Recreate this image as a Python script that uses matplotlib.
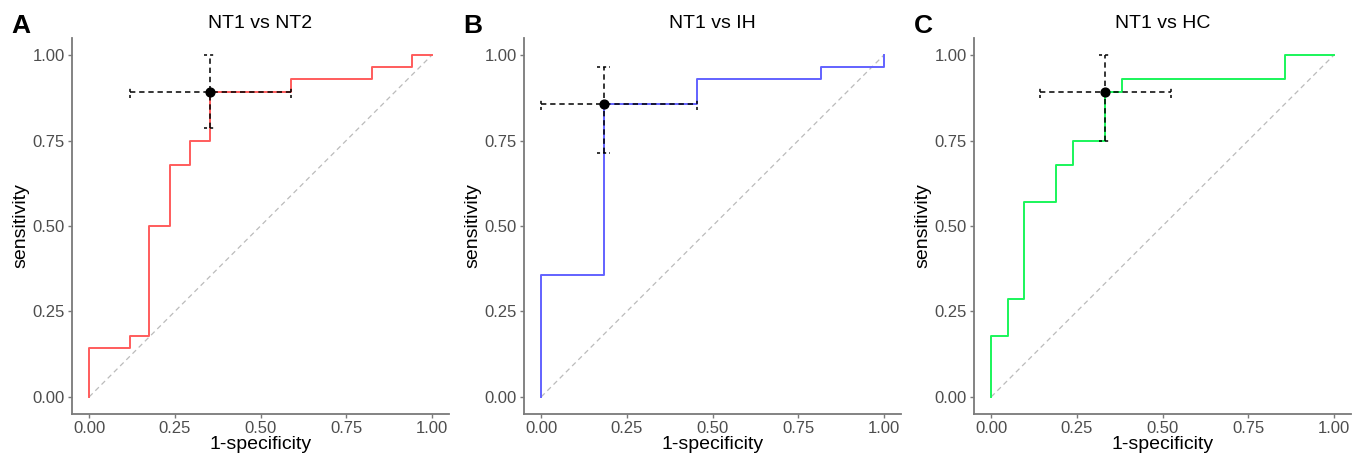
import matplotlib
matplotlib.use('Agg')
import matplotlib.pyplot as plt

plt.rcParams['font.family'] = ['Liberation Sans', 'DejaVu Sans']

# ROC step curves (1-specificity, sensitivity)
nt2_fpr = [0, 0, 0.118, 0.118, 0.176, 0.176, 0.235, 0.235, 0.294, 0.294, 0.353, 0.353,
           0.588, 0.588, 0.824, 0.824, 0.941, 0.941, 1.0]
nt2_tpr = [0, 0.143, 0.143, 0.179, 0.179, 0.5, 0.5, 0.679, 0.679, 0.75, 0.75, 0.893,
           0.893, 0.929, 0.929, 0.964, 0.964, 1.0, 1.0]

ih_fpr = [0, 0, 0.182, 0.182, 0.455, 0.455, 0.818, 0.818, 1.0, 1.0]
ih_tpr = [0, 0.357, 0.357, 0.857, 0.857, 0.929, 0.929, 0.964, 0.964, 1.0]

hc_fpr = [0, 0, 0.048, 0.048, 0.095, 0.095, 0.190, 0.190, 0.238, 0.238, 0.333, 0.333,
          0.381, 0.381, 0.857, 0.857, 1.0]
hc_tpr = [0, 0.179, 0.179, 0.286, 0.286, 0.571, 0.571, 0.679, 0.679, 0.75, 0.75, 0.893,
          0.893, 0.929, 0.929, 1.0, 1.0]

# best cut-off point with CI: (x, y, x_lo, x_hi, y_lo, y_hi)
nt2_best = (0.353, 0.893, 0.118, 0.588, 0.786, 1.0)
ih_best = (0.182, 0.857, 0.0, 0.455, 0.714, 0.964)
hc_best = (0.333, 0.893, 0.143, 0.524, 0.75, 1.0)

titles = ['NT1 vs NT2', 'NT1 vs IH', 'NT1 vs HC']
letters = ['A', 'B', 'C']
colors = ['#FF5C5C', '#6262FF', '#1AF55A']
ticks = [0, 0.25, 0.5, 0.75, 1.0]
tick_labels = ['0.00', '0.25', '0.50', '0.75', '1.00']

curves = [(nt2_fpr, nt2_tpr, nt2_best), (ih_fpr, ih_tpr, ih_best), (hc_fpr, hc_tpr, hc_best)]

fig = plt.figure(figsize=(13.53, 4.55), dpi=100)
lefts = [72 / 1353, 524 / 1353, 974 / 1353]
axis_col = '#7a7a7a'
cap = 0.018

for i, (fpr, tpr, best) in enumerate(curves):
    ax = fig.add_axes([lefts[i], 41 / 455, 377 / 1353, 376 / 455])
    ax.plot([0, 1], [0, 1], ls=(0, (4, 3)), color='#bbbbbb', lw=0.9, zorder=1)
    ax.plot(fpr, tpr, color=colors[i], lw=1.4, zorder=2)

    x, y, xlo, xhi, ylo, yhi = best
    ls = (0, (3.5, 2.5))
    ax.plot([xlo, xhi], [y, y], ls=ls, color='black', lw=1.1, zorder=3)
    ax.plot([x, x], [ylo, yhi], ls=ls, color='black', lw=1.1, zorder=3)
    for xc in (xlo, xhi):
        ax.plot([xc, xc], [y - cap, y + cap], ls=(0, (2, 2)), color='black', lw=1.1, zorder=3)
    for yc in (ylo, yhi):
        ax.plot([x - cap, x + cap], [yc, yc], ls=(0, (2, 2)), color='black', lw=1.1, zorder=3)
    ax.scatter([x], [y], s=40, color='black', zorder=4)

    ax.set_xlim(-0.05, 1.05)
    ax.set_ylim(-0.05, 1.05)
    ax.set_xticks(ticks)
    ax.set_xticklabels(tick_labels)
    ax.set_yticks(ticks)
    ax.set_yticklabels(tick_labels)
    for side in ['top', 'right']:
        ax.spines[side].set_visible(False)
    for side in ['left', 'bottom']:
        ax.spines[side].set_color(axis_col)
        ax.spines[side].set_linewidth(1.3)
    ax.tick_params(colors=axis_col, labelcolor='#4d4d4d', labelsize=12, length=3, width=1, pad=2)
    ax.set_xlabel('1-specificity', fontsize=14, labelpad=0)
    ax.set_ylabel('sensitivity', fontsize=14, labelpad=2)
    ax.set_title(titles[i], fontsize=14, pad=7)
    ax.text(-0.16, 1.0, letters[i], transform=ax.transAxes, fontsize=19,
            fontweight='bold', ha='left', va='bottom')

fig.savefig('out.png', dpi=100, facecolor='white')
